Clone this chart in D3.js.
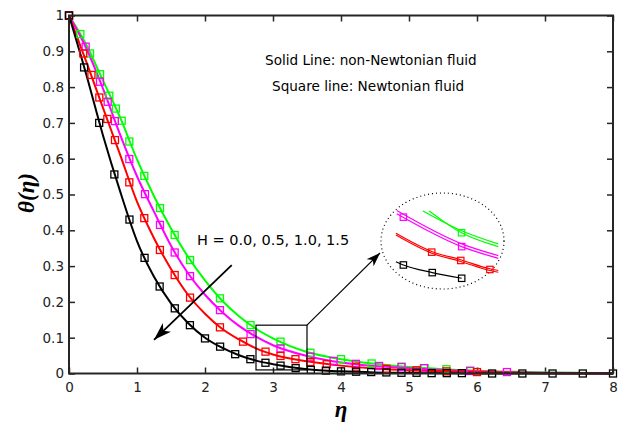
<!DOCTYPE html>
<html>
<head>
<meta charset="utf-8">
<script src="https://cdn.jsdelivr.net/npm/d3@7"></script>
<style>
  body { margin: 0; background: #fff; }
  text { font-family: "DejaVu Sans", Arial, sans-serif; }
</style>
</head>
<body>
<script>
// solid lines (non-Newtonian), read at common eta points
const etaLine = [0, 0.25, 0.5, 0.75, 1, 1.25, 1.5, 1.75, 2, 2.25, 2.5, 2.75, 3, 3.5, 4, 4.5, 5, 5.5, 6, 7, 8];
const lineH00 = [1, 0.92, 0.818, 0.716, 0.598, 0.495, 0.405, 0.326, 0.26, 0.204, 0.16, 0.125, 0.098, 0.06, 0.04, 0.027, 0.018, 0.012, 0.008, 0.003, 0.001];
const lineH05 = [1, 0.91, 0.796, 0.668, 0.551, 0.452, 0.357, 0.28, 0.22, 0.172, 0.133, 0.103, 0.079, 0.049, 0.031, 0.021, 0.015, 0.01, 0.006, 0.002, 0.001];
const lineH10 = [1, 0.873, 0.742, 0.612, 0.48, 0.378, 0.292, 0.22, 0.167, 0.125, 0.095, 0.07, 0.053, 0.034, 0.022, 0.014, 0.009, 0.006, 0.004, 0.001, 0];
const lineH15 = [1, 0.838, 0.665, 0.51, 0.37, 0.27, 0.196, 0.141, 0.1, 0.072, 0.051, 0.036, 0.026, 0.012, 0.006, 0.003, 0.002, 0.001, 0, 0, 0];

// square markers (Newtonian)
const sqEtaH00 = [0, 0.167, 0.309, 0.456, 0.593, 0.69, 0.775, 0.887, 1.107, 1.338, 1.554, 1.78, 2.22, 2.67, 3.11, 3.55, 4.0, 4.45, 4.89, 5.23, 5.55, 5.9];
const sqH00    = [1, 0.948, 0.894, 0.836, 0.776, 0.740, 0.706, 0.648, 0.552, 0.462, 0.387, 0.317, 0.210, 0.135, 0.089, 0.058, 0.040, 0.028, 0.019, 0.015, 0.012, 0.008];
const sqEtaH05 = [0, 0.245, 0.456, 0.569, 0.676, 0.887, 1.118, 1.338, 1.554, 1.78, 2.22, 2.67, 3.11, 3.55, 3.89, 4.22, 4.56, 4.89, 5.22, 5.9, 6.44];
const sqH05    = [1, 0.913, 0.815, 0.759, 0.705, 0.599, 0.501, 0.415, 0.338, 0.272, 0.177, 0.110, 0.070, 0.047, 0.035, 0.027, 0.021, 0.018, 0.015, 0.007, 0.004];
const sqEtaH10 = [0, 0.21, 0.33, 0.446, 0.564, 0.676, 0.887, 1.107, 1.337, 1.554, 1.78, 2.22, 2.56, 2.89, 3.11, 3.33, 3.55, 3.79, 4.22, 4.67, 5.11, 5.55, 6.0];
const sqH10    = [1, 0.894, 0.834, 0.771, 0.711, 0.652, 0.534, 0.434, 0.345, 0.275, 0.212, 0.129, 0.089, 0.061, 0.049, 0.040, 0.032, 0.026, 0.019, 0.013, 0.009, 0.006, 0.004];
const sqEtaH15 = [0, 0.222, 0.444, 0.667, 0.889, 1.111, 1.333, 1.556, 1.778, 2.0, 2.222, 2.444, 2.667, 2.889, 3.111, 3.333, 3.556, 3.778, 4.0, 4.222, 4.444, 4.667, 4.889, 5.111, 5.333, 5.556, 5.778, 6.222, 6.667, 7.111, 7.556, 8.0];
const sqH15    = [1, 0.855, 0.700, 0.556, 0.430, 0.323, 0.243, 0.182, 0.135, 0.098, 0.075, 0.054, 0.040, 0.030, 0.022, 0.015, 0.010, 0.008, 0.006, 0.005, 0.004, 0.003, 0.002, 0.002, 0.001, 0.001, 0.001, 0, 0, 0, 0, 0];

// magnified inset (values of the boxed region)
const inGreenSolid  = [[2.994, 0.117], [3.28, 0.0885], [3.552, 0.0695]];
const inGreenSquare = [[3.04, 0.117], [3.28, 0.0855], [3.552, 0.0655]];
const inGreenMarks  = [[3.28, 0.0855]];
const inMagSolid    = [[2.80, 0.1175], [3.281, 0.0695], [3.552, 0.0525]];
const inMagSquare   = [[2.80, 0.113], [3.281, 0.0655], [3.552, 0.0485]];
const inMagMarks    = [[2.849, 0.108], [3.281, 0.0655]];
const inRedSolid    = [[2.794, 0.0847], [3.059, 0.0585], [3.274, 0.0465], [3.49, 0.0335], [3.552, 0.031]];
const inRedSquare   = [[2.794, 0.0822], [3.059, 0.056], [3.274, 0.044], [3.49, 0.031], [3.552, 0.0285]];
const inRedMarks    = [[3.059, 0.0575], [3.274, 0.0455], [3.49, 0.0325]];
const inBlackSquare = [[2.794, 0.0437], [2.849, 0.039], [3.063, 0.028], [3.281, 0.0198]];
const inBlackMarks  = [[2.849, 0.039], [3.063, 0.028], [3.281, 0.0198]];

const xTicks = [0, 1, 2, 3, 4, 5, 6, 7, 8];
const yTicks = [0, 0.1, 0.2, 0.3, 0.4, 0.5, 0.6, 0.7, 0.8, 0.9, 1];
const colors = {h00: '#00ff00', h05: '#ff00ff', h10: '#ff0000', h15: '#000000'};

const svg = d3.select('body').append('svg')
  .attr('width', 624)
  .attr('height', 429);

const x = d3.scaleLinear().domain([0, 8]).range([69, 613]);
const y = d3.scaleLinear().domain([0, 1]).range([373.5, 15.5]);
// inset scales
const xIn = d3.scaleLinear().domain([2.75, 3.55]).range([390, 498]);
const yIn = d3.scaleLinear().domain([0, 0.14]).range([292, 195]);

const defs = svg.append('defs');
defs.append('marker').attr('id', 'head1')
  .attr('viewBox', '0 0 18 12').attr('refX', 18).attr('refY', 6)
  .attr('markerWidth', 18).attr('markerHeight', 12)
  .attr('markerUnits', 'userSpaceOnUse').attr('orient', 'auto')
  .append('path').attr('d', 'M0,0 L18,6 L0,12 L5,6 Z').attr('fill', '#000');
defs.append('marker').attr('id', 'head2')
  .attr('viewBox', '0 0 14 10').attr('refX', 14).attr('refY', 5)
  .attr('markerWidth', 14).attr('markerHeight', 10)
  .attr('markerUnits', 'userSpaceOnUse').attr('orient', 'auto')
  .append('path').attr('d', 'M0,0 L14,5 L0,10 L4,5 Z').attr('fill', '#000');

// axes (ticks inward on all sides)
const axisColor = '#262626';
const gx = svg.append('g').attr('transform', `translate(0,${y(0)})`)
  .call(d3.axisBottom(x).tickValues(xTicks).tickSize(-6).tickSizeOuter(0).tickPadding(9).tickFormat(d3.format('d')));
const gy = svg.append('g').attr('transform', `translate(${x(0)},0)`)
  .call(d3.axisLeft(y).tickValues(yTicks).tickSize(-6).tickSizeOuter(0).tickPadding(5).tickFormat(d => d === 0 || d === 1 ? d3.format('d')(d) : d3.format('.1f')(d)));
const gt = svg.append('g').attr('transform', `translate(0,${y(1)})`)
  .call(d3.axisTop(x).tickValues(xTicks).tickSize(-6).tickSizeOuter(0).tickFormat(''));
const gr = svg.append('g').attr('transform', `translate(${x(8)},0)`)
  .call(d3.axisRight(y).tickValues(yTicks).tickSize(-6).tickSizeOuter(0).tickFormat(''));
[gx, gy, gt, gr].forEach(g => {
  g.select('.domain').remove();
  g.selectAll('line').attr('stroke', axisColor).attr('stroke-width', 1.5);
  g.selectAll('text').attr('fill', '#222').style('font-size', '13.5px')
    .style('font-family', '"DejaVu Sans", Arial, sans-serif');
});

const line = d3.line().x(d => x(d[0])).y(d => y(d[1])).curve(d3.curveMonotoneX);
const series = [
  {c: colors.h00, line: lineH00, sqEta: sqEtaH00, sq: sqH00},
  {c: colors.h05, line: lineH05, sqEta: sqEtaH05, sq: sqH05},
  {c: colors.h10, line: lineH10, sqEta: sqEtaH10, sq: sqH10},
  {c: colors.h15, line: lineH15, sqEta: sqEtaH15, sq: sqH15}
];

series.forEach(s => {
  svg.append('path')
    .datum(etaLine.map((e, i) => [e, s.line[i]]))
    .attr('d', line)
    .attr('fill', 'none')
    .attr('stroke', s.c)
    .attr('stroke-width', 2);
});
series.forEach(s => {
  svg.append('g').selectAll('rect')
    .data(s.sqEta.map((e, i) => [e, s.sq[i]]))
    .join('rect')
    .attr('x', d => x(d[0]) - 3.5)
    .attr('y', d => y(d[1]) - 3.5)
    .attr('width', 7).attr('height', 7)
    .attr('fill', 'none')
    .attr('stroke', s.c)
    .attr('stroke-width', 1.3);
});

// frame box
svg.append('rect')
  .attr('x', x(0)).attr('y', y(1))
  .attr('width', x(8) - x(0)).attr('height', y(0) - y(1))
  .attr('fill', 'none').attr('stroke', axisColor).attr('stroke-width', 2);

// zoom box and arrow to the inset
svg.append('rect')
  .attr('x', x(2.75)).attr('y', y(0.135))
  .attr('width', x(3.5) - x(2.75)).attr('height', y(0.01) - y(0.135))
  .attr('fill', 'none').attr('stroke', '#000').attr('stroke-width', 1.2);
svg.append('line')
  .attr('x1', x(3.5)).attr('y1', y(0.135))
  .attr('x2', xIn(2.676)).attr('y2', yIn(0.0563))
  .attr('stroke', '#000').attr('stroke-width', 1.2)
  .attr('marker-end', 'url(#head2)');

// inset
svg.append('ellipse')
  .attr('cx', xIn(3.139)).attr('cy', yIn(0.0736))
  .attr('rx', 61.5).attr('ry', 48)
  .attr('fill', 'none').attr('stroke', '#000').attr('stroke-width', 1.2)
  .attr('stroke-dasharray', '1,3');

const lineIn = d3.line().x(d => xIn(d[0])).y(d => yIn(d[1])).curve(d3.curveMonotoneX);
const inset = [
  {c: colors.h00, lines: [inGreenSolid, inGreenSquare], marks: inGreenMarks},
  {c: colors.h05, lines: [inMagSolid, inMagSquare], marks: inMagMarks},
  {c: colors.h10, lines: [inRedSolid, inRedSquare], marks: inRedMarks},
  {c: colors.h15, lines: [inBlackSquare], marks: inBlackMarks}
];
inset.forEach(s => {
  s.lines.forEach(l => {
    svg.append('path').datum(l).attr('d', lineIn)
      .attr('fill', 'none').attr('stroke', s.c).attr('stroke-width', 1.2);
  });
  svg.append('g').selectAll('rect').data(s.marks).join('rect')
    .attr('x', d => xIn(d[0]) - 3.2).attr('y', d => yIn(d[1]) - 3.2)
    .attr('width', 6.4).attr('height', 6.4)
    .attr('fill', 'none').attr('stroke', s.c).attr('stroke-width', 1.2);
});

// H arrow
svg.append('line')
  .attr('x1', x(2.393)).attr('y1', y(0.303))
  .attr('x2', x(1.25)).attr('y2', y(0.094))
  .attr('stroke', '#000').attr('stroke-width', 1.8)
  .attr('marker-end', 'url(#head1)');

// annotation text
svg.append('text').attr('x', 265).attr('y', 65)
  .style('font-size', '13.6px').attr('fill', '#000')
  .text('Solid Line: non-Newtonian fluid');
svg.append('text').attr('x', 272).attr('y', 91)
  .style('font-size', '13.6px').attr('fill', '#000')
  .text('Square line: Newtonian fluid');
svg.append('text').attr('x', 197).attr('y', 245)
  .style('font-size', '14.5px').attr('fill', '#000')
  .text('H = 0.0, 0.5, 1.0, 1.5');

// axis titles
svg.append('text')
  .attr('transform', 'translate(34,193) rotate(-90)')
  .attr('text-anchor', 'middle')
  .style('font-family', '"Liberation Serif", "Times New Roman", serif')
  .style('font-weight', 'bold').style('font-style', 'italic')
  .style('font-size', '23px')
  .text('θ(η)');
svg.append('text')
  .attr('x', 341).attr('y', 417)
  .attr('text-anchor', 'middle')
  .style('font-family', '"Liberation Serif", "Times New Roman", serif')
  .style('font-weight', 'bold').style('font-style', 'italic')
  .style('font-size', '23px')
  .text('η');
</script>
</body>
</html>
